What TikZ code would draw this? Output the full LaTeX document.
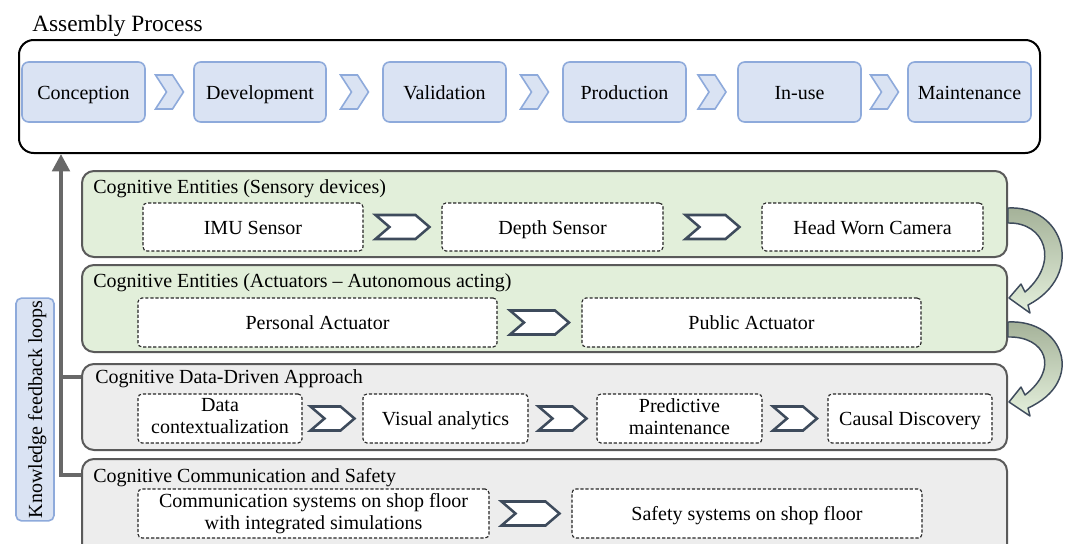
\documentclass[tikz,border=0pt]{standalone}
\usepackage{fontspec}
\setmainfont{Liberation Serif}
\usetikzlibrary{calc,arrows.meta}

\definecolor{phasefill}{HTML}{DAE3F3}
\definecolor{phaseline}{HTML}{8EAADB}
\definecolor{greenbg}{HTML}{E2EFDA}
\definecolor{graybg}{HTML}{EDEDED}
\definecolor{panelline}{HTML}{5A5A5A}
\definecolor{itemline}{HTML}{262626}
\definecolor{chevline}{HTML}{3E4B5C}
\definecolor{fbgray}{HTML}{686868}
\definecolor{bandtop}{HTML}{A3B097}
\definecolor{bandbot}{HTML}{E4F0DC}

\newcommand\diagfont{\fontsize{15}{16.5}\selectfont}
\newcommand\headfont{\fontsize{17.5}{20}\selectfont}
% invisible rule that fixes the line height/depth so all labels sit alike
\newcommand\labelstrut{\rule[-3.5pt]{0pt}{17.5pt}}

\begin{document}
\begin{tikzpicture}[x=0.75pt,y=-0.75pt,
  sz/.style 2 args={minimum width=#1*0.75pt, minimum height=#2*0.75pt},
  strutted/.style={execute at begin node=\labelstrut, execute at end node=\labelstrut},
  outerbox/.style={draw=black, line width=1.5pt, rounded corners=11pt, inner sep=0pt},
  phase/.style={draw=phaseline, fill=phasefill, line width=1.2pt, rounded corners=5pt,
    inner sep=0pt, font=\diagfont, strutted},
  panel/.style={draw=panelline, line width=1.5pt, rounded corners=9pt, inner sep=0pt},
  ptitle/.style={inner sep=0pt, font=\diagfont},
  item/.style={draw=itemline, fill=white, line width=0.85pt, dash pattern=on 2.4pt off 1.4pt,
    rounded corners=3pt, inner sep=0pt, align=center, font=\diagfont, strutted},
  fb/.style={draw=fbgray, line width=3pt},
  band/.style={draw=chevline, line width=1.1pt, top color=bandtop, bottom color=bandbot,
    line join=round},
  pics/chevblue/.style={code={
    \draw[draw=phaseline, fill=phasefill, line width=1.2pt]
      (-14,-17) -- (3,-17) -- (14,0) -- (3,17) -- (-14,17) -- (-3,0) -- cycle;}},
  pics/chevdark/.style={code={
    \draw[draw=chevline, fill=white, line width=1.9pt, line join=miter]
      (-#1/2,-12) -- (#1/2-14,-12) -- (#1/2,0) -- (#1/2-14,12) -- (-#1/2,12)
      -- (-#1/2+14,0) -- cycle;}}
]
\useasboundingbox (0,0) rectangle (1067,543);
\clip (0,0) rectangle (1067,543);

% ---------- assembly process ----------
\node[anchor=base west, inner sep=0pt, font=\headfont] (title) at (32,31) {Assembly Process};
\node[outerbox, sz={1021}{113}] (proc) at (529.5,96.5) {};

\node[phase, sz={123}{60}] (conc) at (83.5,92)  {Conception};
\node[phase, sz={132}{60}] (dev)  at (260,92)   {Development};
\node[phase, sz={123}{60}] (val)  at (444.5,92) {Validation};
\node[phase, sz={123}{60}] (prod) at (624.5,92) {Production};
\node[phase, sz={123}{60}] (use)  at (799.5,92) {In-use};
\node[phase, sz={123}{60}] (mnt)  at (969.5,92) {Maintenance};

\pic at ($(conc.east)!.5!(dev.west)$) {chevblue};
\pic at ($(dev.east)!.5!(val.west)$) {chevblue};
\pic at ($(val.east)!.5!(prod.west)$) {chevblue};
\pic at ($(prod.east)!.5!(use.west)$) {chevblue};
\pic at ($(use.east)!.5!(mnt.west)$) {chevblue};

% ---------- layers ----------
\node[panel, fill=greenbg, sz={925}{86}] (sens) at (544.5,214) {};
\node[ptitle, anchor=base west] (senst) at (93,193) {Cognitive Entities (Sensory devices)};
\node[item, sz={220}{48}] (imu)   at (253,227)   {IMU Sensor};
\node[item, sz={221}{48}] (depth) at (552.5,227) {Depth Sensor};
\node[item, sz={221}{48}] (head)  at (872.5,227) {Head Worn Camera};
\pic at ($(imu.east)!.5!(depth.west)$) {chevdark=54};
\pic at ($(depth.east)!.5!(head.west)$) {chevdark=54};

\node[panel, fill=greenbg, sz={925}{87}] (act) at (544.5,308.5) {};
\node[ptitle, anchor=base west] (actt) at (93,287) {Cognitive Entities (Actuators -- Autonomous acting)};
\node[item, sz={359}{49}] (pers) at (317.5,322.5) {Personal Actuator};
\node[item, sz={339}{49}] (pub)  at (751.5,322.5) {Public Actuator};
\pic at ($(pers.east)!.5!(pub.west)$) {chevdark=59};

\node[panel, fill=graybg, sz={925}{86}] (data) at (544.5,407) {};
\node[ptitle, anchor=base west] (datat) at (95,383) {Cognitive Data-Driven Approach};
\node[item, sz={164}{49}] (ctx)  at (220,418.5)   {Data\\contextualization};
\node[item, sz={165}{49}] (vis)  at (445.5,418.5) {Visual analytics};
\node[item, sz={165}{49}] (pred) at (679.5,418.5) {Predictive\\maintenance};
\node[item, sz={164}{49}] (caus) at (910,418.5)   {Causal Discovery};
\pic at ($(ctx.east)!.5!(vis.west)$) {chevdark=44};
\pic at ($(vis.east)!.5!(pred.west)$) {chevdark=48};
\pic at ($(pred.east)!.5!(caus.west)$) {chevdark=44};

\node[panel, fill=graybg, sz={925}{111}] (comm) at (544.5,514.5) {};
\node[ptitle, anchor=base west] (commt) at (93,482) {Cognitive Communication and Safety};
\node[item, sz={351}{49}] (comsys) at (313.5,513.5) {Communication systems on shop floor\\with integrated simulations};
\node[item, sz={350}{49}] (safe)   at (747,513.5)   {Safety systems on shop floor};
\pic at ($(comsys.east)!.5!(safe.west)$) {chevdark=58};

% ---------- curved hand-over arrows ----------
\path[band] (1008,208) .. controls (1064,205) and (1086,275) .. (1028,305)
  -- (1030,313) -- (1009,298) -- (1021,284) -- (1025,292)
  .. controls (1060,262) and (1045,222) .. (1008,223) -- cycle;
\path[band] (1008,322) .. controls (1064,319) and (1086,382) .. (1028,408)
  -- (1030,416) -- (1009,402) -- (1021,387) -- (1025,395)
  .. controls (1060,368) and (1045,336) .. (1008,337) -- cycle;

% ---------- knowledge feedback loops ----------
\coordinate (fbfoot) at (61,475);
\coordinate (fbmid) at (61,377);
\coordinate (fbtip) at (61,154);
\draw[fb, -{Triangle[length=13pt,width=13pt]}] (fbfoot -| comm.west) -- (fbfoot) -- (fbtip);
\draw[fb] (fbmid -| data.west) -- (fbmid);

\node[draw=phaseline, fill=phasefill, line width=1.2pt, rounded corners=4pt, rotate=90,
  minimum width=167pt, minimum height=28.5pt, inner sep=0pt, font=\diagfont, strutted]
  (kfl) at (35,409.5) {Knowledge feedback loops};
\end{tikzpicture}
\end{document}
